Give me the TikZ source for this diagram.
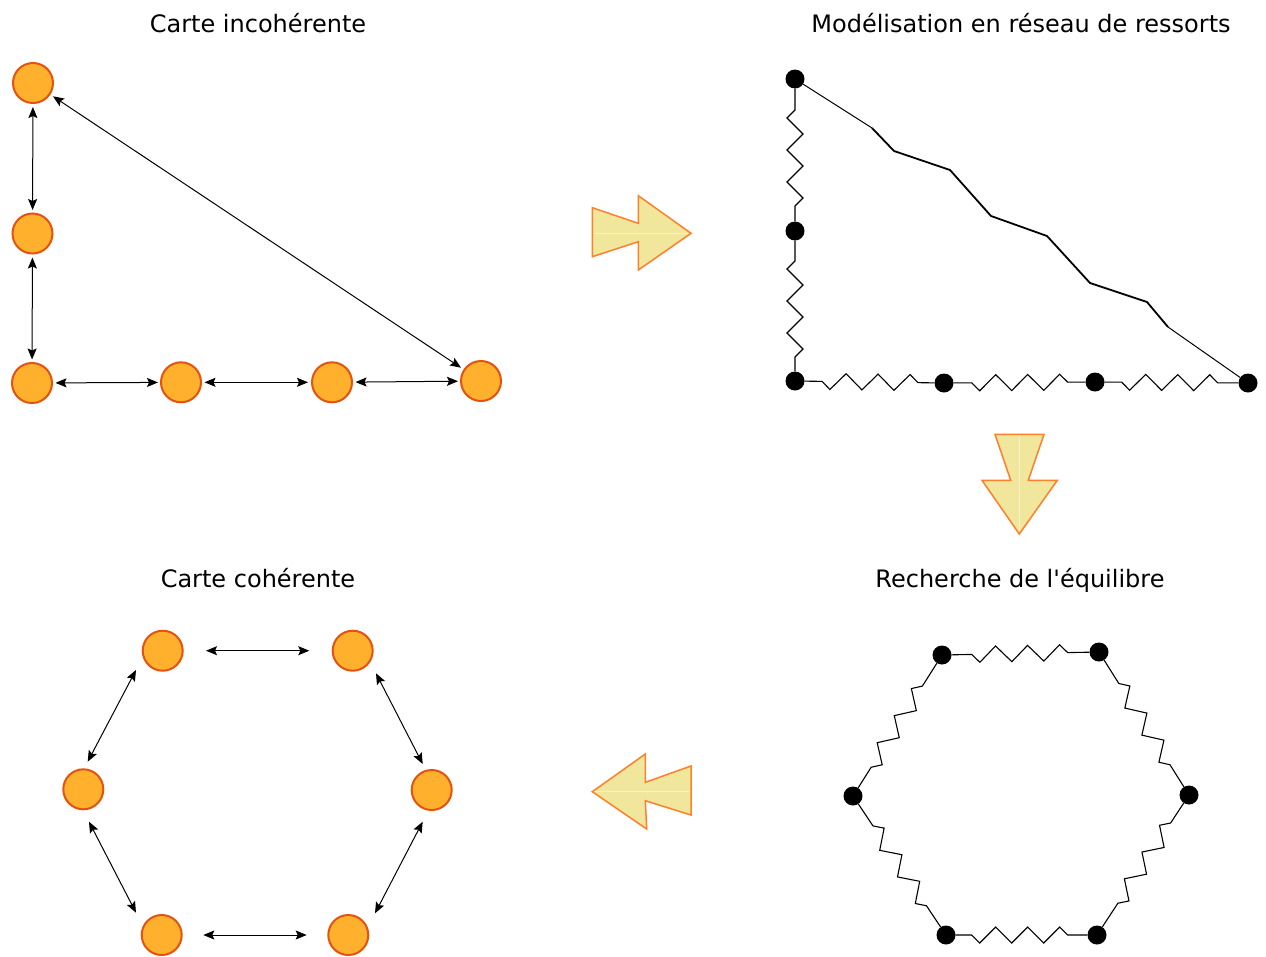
\documentclass[tikz,border=0pt]{standalone}
\usepackage{fontspec}
\newfontfamily\titlefont{DejaVu Sans}
\usetikzlibrary{arrows.meta,decorations.pathmorphing,calc}
\definecolor{ofill}{HTML}{FFB12E}
\definecolor{odraw}{HTML}{E5520F}
\definecolor{afill}{HTML}{F0E69C}
\definecolor{adraw}{HTML}{FF7F2A}
\begin{document}
\begin{tikzpicture}[x=1pt,y=-1pt,
  onode/.style={circle, draw=odraw, fill=ofill, line width=2pt, minimum size=40pt, inner sep=0pt},
  dot/.style={circle, fill=black, minimum size=19pt, inner sep=0pt},
  harrow/.style={{Stealth[length=11pt,width=9pt,inset=2pt]}-{Stealth[length=11pt,width=9pt,inset=2pt]}, line width=1pt},
  title/.style={anchor=base, font=\titlefont\fontsize{24}{28}\selectfont},
  wire/.style={line width=1.1pt},
  springR/.style 2 args={wire, decorate, decoration={zigzag, segment length=32pt, amplitude=8pt, mirror, pre length=#1, post length=#2}},
  springL/.style 2 args={wire, decorate, decoration={zigzag, segment length=32pt, amplitude=8pt, pre length=#1, post length=#2}},
  bigarrow/.style={fill=afill, draw=adraw, line width=1.5pt, line join=miter}
]
\fill[white] (0,0) rectangle (1266,956);
\useasboundingbox (0,0) rectangle (1266,956);

% titles
\node[title] (t1) at (258,32) {Carte incohérente};
\node[title] (t2) at (1021,32) {Modélisation en réseau de ressorts};
\node[title] (t3) at (258,587) {Carte cohérente};
\node[title] (t4) at (1020,587) {Recherche de l'équilibre};

% ---------- incoherent map ----------
\node[onode] (a1) at (33,83) {};
\node[onode] (a2) at (32.5,233.5) {};
\node[onode] (a3) at (32,383) {};
\node[onode] (a4) at (181,382.3) {};
\node[onode] (a5) at (332,382.3) {};
\node[onode] (a6) at (481,381) {};
\draw[harrow, shorten <=3pt, shorten >=2.5pt] (a1) -- (a2);
\draw[harrow, shorten <=3pt, shorten >=2.5pt] (a2) -- (a3);
\draw[harrow, shorten <=2.5pt, shorten >=2pt] (a3) -- (a4);
\draw[harrow, shorten <=2.5pt, shorten >=3pt] (a4) -- (a5);
\draw[harrow, shorten <=2.5pt, shorten >=2pt] (a5) -- (a6);
\draw[harrow, shorten <=3pt, shorten >=3pt] (a1) -- (a6);

% ---------- spring network ----------
\node[dot] (b1) at (795,79) {};
\node[dot] (b2) at (795,231) {};
\node[dot] (b3) at (795,381) {};
\node[dot] (b4) at (944,383) {};
\node[dot] (b5) at (1095,382) {};
\node[dot] (b6) at (1248,383) {};
\draw[springR={21.3pt}{11pt}] (b1) -- (b2);
\draw[springR={20.3pt}{10pt}] (b2) -- (b3);
\draw[springR={17.3pt}{12pt}] (b3) -- (b4);
\draw[springR={18pt}{13pt}] (b4) -- (b5);
\draw[springR={17pt}{16pt}] (b5) -- (b6);
\coordinate (d1) at (872,128);
\coordinate (d2) at (894,151);
\coordinate (d3) at (950,170);
\coordinate (d4) at (991,216);
\coordinate (d5) at (1047,236);
\coordinate (d6) at (1090,283);
\coordinate (d7) at (1147,302);
\coordinate (d8) at (1168,327);
\draw[line width=1pt] (b1) -- (d1);
\draw[line width=1.8pt, line join=round] (d1) -- (d2) -- (d3) -- (d4) -- (d5) -- (d6) -- (d7) -- (d8);
\draw[line width=1pt] (d8) -- (b6);

% ---------- equilibrium ----------
\node[dot] (h1) at (942,655) {};
\node[dot] (h2) at (1099,652) {};
\node[dot] (h3) at (1189,795) {};
\node[dot] (h4) at (1097,935) {};
\node[dot] (h5) at (946,935) {};
\node[dot] (h6) at (853,796) {};
\draw[springR={20pt}{17pt}] (h1) -- (h2);
\draw[springR={16pt}{15pt}] (h5) -- (h4);
\draw[springR={24.3pt}{22pt}] (h6) -- (h1);
\draw[springL={27.5pt}{21pt}] (h2) -- (h3);
\draw[springR={23.8pt}{23pt}] (h3) -- (h4);
\draw[springL={26.3pt}{21pt}] (h6) -- (h5);

% ---------- coherent map ----------
\node[onode] (c1) at (162.7,650.7) {};
\node[onode] (c2) at (352.7,650.7) {};
\node[onode] (c3) at (431.7,790) {};
\node[onode] (c4) at (348.3,935) {};
\node[onode] (c5) at (161.7,935) {};
\node[onode] (c6) at (83.3,789.3) {};
\draw[harrow] ($(c1)+(43.3,0)$) -- ($(c2)+(-43.4,0)$);
\draw[harrow] ($(c2)+(23.3,22.6)$) -- ($(c3)+(-9,-26)$);
\draw[harrow] ($(c3)+(-9,31.7)$) -- ($(c4)+(26.7,-21.7)$);
\draw[harrow] ($(c4)+(-41.6,0)$) -- ($(c5)+(41.6,0)$);
\draw[harrow] ($(c5)+(-25.7,-22.3)$) -- ($(c6)+(5.7,32.4)$);
\draw[harrow] ($(c6)+(4.4,-27.6)$) -- ($(c1)+(-26.7,19.3)$);

% ---------- big arrows ----------
\draw[bigarrow] (592.3,207.7) -- (638.3,223.3) -- (638.3,195.7) -- (691,233.3) -- (638.3,270) -- (638.3,241.7) -- (592.3,256.7) -- cycle;
\draw[white, opacity=0.45, line width=0.6pt] (593.5,233.3) -- (689,233.3);
\draw[bigarrow] (995,434.3) -- (1044,434.3) -- (1028.3,480.3) -- (1057.3,480.3) -- (1019.3,534) -- (982,480.3) -- (1010.7,480.3) -- cycle;
\draw[white, opacity=0.45, line width=0.6pt] (1019.3,435.5) -- (1019.3,532);
\draw[bigarrow] (592.3,791.7) -- (645.3,754) -- (645.3,782.3) -- (691,766) -- (691,815) -- (645.3,800.7) -- (646.7,829) -- cycle;
\draw[white, opacity=0.45, line width=0.6pt] (594,791.7) -- (689.5,791.7);
\end{tikzpicture}
\end{document}
